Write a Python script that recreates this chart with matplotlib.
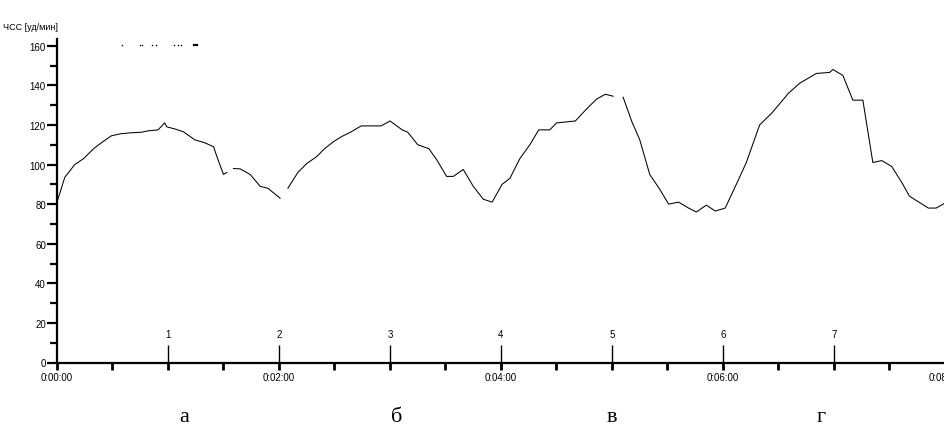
import numpy as np
import matplotlib
matplotlib.use("Agg")
import matplotlib.pyplot as plt
from matplotlib.ticker import MultipleLocator, FixedLocator, FixedFormatter

# Heart-rate curve (time in minutes, value in beats/min); NaN = gap in the trace
time_min = [0.00, 0.07, 0.16, 0.24, 0.33, 0.40, 0.49, 0.57, 0.66, 0.76, 0.82, 0.91,
            0.97, 0.99, 1.06, 1.14, 1.24, 1.33, 1.41, 1.45, 1.50, 1.53, 1.56,
            1.59, 1.65, 1.74, 1.83, 1.90, 2.01, 2.05,
            2.08, 2.17, 2.25, 2.34, 2.41, 2.49, 2.56, 2.65, 2.74, 2.92, 3.00,
            3.11, 3.16, 3.25, 3.35, 3.42, 3.51, 3.57, 3.66, 3.75, 3.84, 3.92,
            4.01, 4.08, 4.17, 4.26, 4.34, 4.44, 4.50, 4.67, 4.77, 4.86, 4.94,
            5.01, 5.05,
            5.10, 5.18, 5.25, 5.34, 5.43, 5.51, 5.60, 5.69, 5.76, 5.85, 5.93,
            6.02, 6.12, 6.21, 6.33, 6.44, 6.59, 6.69, 6.84, 6.96, 6.99, 7.08,
            7.17, 7.26, 7.35, 7.43, 7.52, 7.61, 7.68, 7.85, 7.92, 8.00]
hr_values = [81, 93.5, 100, 103, 108, 111, 114.5, 115.5, 116, 116.3, 117, 117.5,
             121, 119, 118, 116.5, 112.5, 111, 109, 102.5, 95, 96, np.nan,
             98, 97.8, 95, 89, 88, 83, np.nan,
             88, 96, 100.5, 104, 108, 111.5, 114, 116.5, 119.5, 119.5, 122,
             117.5, 116.3, 110, 108, 102.5, 94, 94, 97.5, 89, 82.5, 81,
             90, 93, 103, 110, 117.5, 117.5, 121, 122, 128, 133, 135.5,
             134.5, np.nan,
             134, 121.5, 112.5, 95, 87.5, 80, 81, 78, 76, 79.5, 76.5,
             78, 90, 101, 120, 126, 136, 141, 146, 146.5, 148, 145,
             132.5, 132.5, 101, 102, 99, 91, 84, 78, 78, 80.5]

# stage markers
marker_min = [1, 2, 3, 4, 5, 6, 7]
marker_labels = ["1", "2", "3", "4", "5", "6", "7"]
marker_height = 9

# x tick labels
xtick_major = [0, 2, 4, 6, 8]
xtick_labels = ["0:00:00", "0:02:00", "0:04:00", "0:06:00", "0:08:00"]

# top dotted trace fragment
top_dots_t = [0.59, 0.75, 0.77, 0.86, 0.89, 1.05, 1.09, 1.12]
top_dots_v = [160.5] * 8
top_dash_t = [1.23, 1.26]
top_dash_v = [160.5, 160.5]

# panel captions
captions = ["а", "б", "в", "г"]
caption_x = [1.15, 3.06, 5.00, 6.88]

ylabel = "ЧСС [уд/мин]"

narrow = ["Liberation Sans Narrow", "Liberation Sans", "DejaVu Sans"]

fig = plt.figure(figsize=(9.45, 4.27), dpi=100)
ax = fig.add_axes([57/945, (427-363.5)/427, 1 - 57/945, (363.5-40)/427])
ax.set_xlim(0, 8)
ax.set_ylim(0, 163.4)

ax.plot(time_min, hr_values, color="black", lw=0.75)
ax.scatter(top_dots_t, top_dots_v, s=1.2, color="black", linewidths=0)
ax.plot(top_dash_t, top_dash_v, color="black", lw=1.6)

for m, lab in zip(marker_min, marker_labels):
    ax.vlines(m, 0, marker_height, color="black", lw=1.0)
    ax.text(m, marker_height + 3, lab, ha="center", va="bottom",
            fontsize=7, family=narrow)

for s in ["top", "right"]:
    ax.spines[s].set_visible(False)
for s in ["left", "bottom"]:
    ax.spines[s].set_linewidth(1.6)

ax.yaxis.set_major_locator(MultipleLocator(20))
ax.yaxis.set_minor_locator(MultipleLocator(10))
ax.tick_params(axis="y", which="major", length=7, width=1.6, labelsize=7, pad=1)
ax.tick_params(axis="y", which="minor", length=5, width=1.6)
ax.xaxis.set_major_locator(FixedLocator(xtick_major))
ax.xaxis.set_major_formatter(FixedFormatter(xtick_labels))
ax.xaxis.set_minor_locator(MultipleLocator(0.5))
ax.tick_params(axis="x", which="both", length=5, width=2.0, labelsize=7, pad=2)
for lab in ax.get_xticklabels() + ax.get_yticklabels():
    lab.set_family(narrow)

fig.text(3/945, 1 - 28/427, ylabel, fontsize=6.5, family=narrow,
         ha="left", va="center")

cap_y = -(422 - 363.5) / (363.5 - 40)
for c, x in zip(captions, caption_x):
    ax.text(x, cap_y, c, transform=ax.get_xaxis_transform(), ha="center",
            va="baseline", fontsize=16, family=["Liberation Serif", "DejaVu Serif"])

fig.savefig("out.png", dpi=100)
